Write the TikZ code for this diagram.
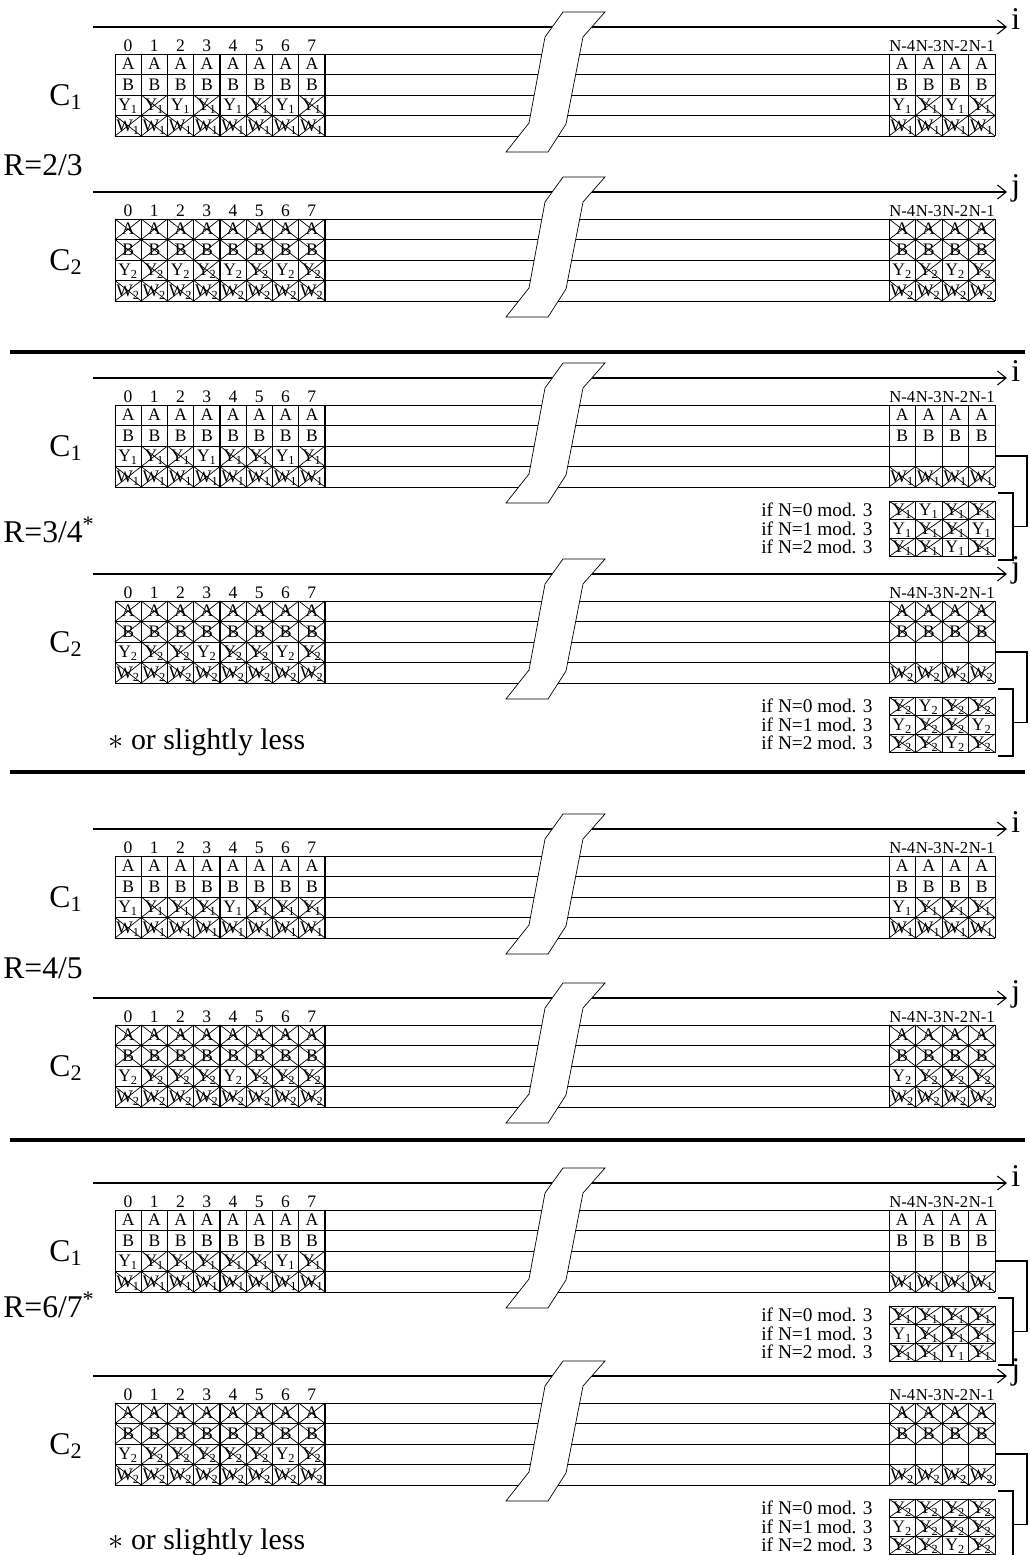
\documentclass[tikz,border=0pt]{standalone}
\usepackage{fontspec}
\setmainfont{Liberation Serif}
\usepackage{tikz}
\usetikzlibrary{positioning, arrows.meta}
\tikzset{
	line width = .5pt,
	cell/.style={
		inner sep=0pt,
		text height=6.5pt,
		text depth=0pt,
		font=\fontsize{10}{11}\selectfont
	},
	colnum/.style={inner sep=0pt, font=\fontsize{10}{11}\selectfont},
	endnum/.style={inner sep=0pt, font=\fontsize{9.5}{10}\selectfont},
	big/.style={inner sep=0pt, font=\fontsize{18}{21}\selectfont},
	note/.style={inner sep=0pt, font=\fontsize{17}{19}\selectfont},
	modlabel/.style={inner sep=0pt, font=\fontsize{11}{12}\selectfont},
	axis/.style={
		-{Straight Barb[length=5pt,width=8pt]},
		line width=.6pt
	},
	thickline/.style={line width=1.1pt},
	breakmark/.style={draw, fill=white},
	separator/.style={line width=2.4pt},
	bracket/.style={line width=.6pt}
}
% one cell: name, x, y, width, height, text, flag (0 plain, 1 crossed, 2 empty)
\newcommand{\cwcell}[7]{%
	\pgfmathsetmacro\cellx{#2+#4/2}\pgfmathsetmacro\celly{#3+#5/2}%
	\ifnum#7<2 \node[cell] (#1) at (\cellx,\celly) {#6};\fi
	\ifnum#7=1 \draw (#2,#3) -- ++(#4,#5) ++(0,-#5) -- ++(-#4,#5);\fi
}
% one codeword: name, top, index, A/B crossed, Y flags left, Y flags right
\newcommand{\cwblock}[6]{%
	\coordinate (#1-s) at (93,{#2-27});
	\coordinate (#1-e) at (1007,{#2-27});
	\draw[axis] (#1-s) -- (#1-e);
	\node[big, anchor=base west] (#1-ax) at (1011,{#2-24}) {\ifnum#3=1 i\else j\fi};
	\node[big] (#1-lbl) at (66,{#2+43}) {C\textsubscript{#3}};
	\foreach \r in {0,...,4}
		\draw (115,{#2+20.5*\r}) -- (995,{#2+20.5*\r});
	\foreach \c in {0,...,8}
		\draw ({115+26.25*\c},#2) -- ({115+26.25*\c},{#2+82});
	\draw[thickline] (220,#2) -- (220,{#2+82}) (325,#2) -- (325,{#2+82});
	\foreach \c in {0,...,4}
		\draw ({889+26.5*\c},#2) -- ({889+26.5*\c},{#2+82});
	\foreach \c in {0,...,7}
		\node[colnum] (#1-n\c) at ({115+26.25*(\c+.5)},{#2-8}) {\c};
	\foreach \t [count=\c from 0] in {N-4,N-3,N-2,N-1}
		\node[endnum] (#1-m\c) at ({889+26.5*(\c+.5)},{#2-8}) {\t};
	\foreach \c in {0,...,7} {
		\pgfmathsetmacro\xx{115+26.25*\c}
		\cwcell{#1-a\c}{\xx}{#2}{26.25}{20.5}{A}{#4}
		\cwcell{#1-b\c}{\xx}{#2+20.5}{26.25}{20.5}{B}{#4}
		\cwcell{#1-w\c}{\xx}{#2+61.5}{26.25}{20.5}{W\textsubscript{#3}}{1}
	}
	\foreach \f [count=\c from 0] in {#5} {
		\pgfmathsetmacro\xx{115+26.25*\c}
		\cwcell{#1-y\c}{\xx}{#2+41}{26.25}{20.5}{Y\textsubscript{#3}}{\f}
	}
	\foreach \c in {0,...,3} {
		\pgfmathsetmacro\xx{889+26.5*\c}
		\cwcell{#1-ea\c}{\xx}{#2}{26.5}{20.5}{A}{#4}
		\cwcell{#1-eb\c}{\xx}{#2+20.5}{26.5}{20.5}{B}{#4}
		\cwcell{#1-ew\c}{\xx}{#2+61.5}{26.5}{20.5}{W\textsubscript{#3}}{1}
	}
	\foreach \f [count=\c from 0] in {#6} {
		\pgfmathsetmacro\xx{889+26.5*\c}
		\cwcell{#1-ey\c}{\xx}{#2+41}{26.5}{20.5}{Y\textsubscript{#3}}{\f}
	}
	\draw[breakmark] (563,{#2-42}) -- (605,{#2-42}) -- (583,{#2-17}) -- (566,{#2+70})
		-- (548,{#2+98}) -- (506,{#2+98}) -- (529,{#2+69}) -- (545,{#2-17}) -- cycle;
}
% table of the last Y cells: name, top of codeword, index, rows
\newcommand{\modtable}[4]{%
	\foreach \row [count=\r from 0] in {#4} {
		\pgfmathsetmacro\yy{#2+96+18.5*\r}
		\foreach \f [count=\c from 0] in \row {
			\pgfmathsetmacro\xx{889+26.5*\c}
			\cwcell{#1-t\r\c}{\xx}{\yy}{26.5}{18.5}{Y\textsubscript{#3}}{\f}
		}
	}
	\foreach \r in {0,...,3}
		\draw (889,{#2+96+18.5*\r}) -- (995,{#2+96+18.5*\r});
	\foreach \c in {0,...,4}
		\draw ({889+26.5*\c},{#2+96}) -- ({889+26.5*\c},{#2+151.5});
	\foreach \t [count=\r from 0] in {0,1,2} {
		\coordinate (#1-r\r) at (889,{#2+105.25+18.5*\r});
		\node[modlabel, anchor=east, left=0.32cm of #1-r\r] (#1-l\r) {if N=\t{} mod. 3};
	}
	\coordinate (#1-yr) at (995,{#2+51});
	\coordinate (#1-yo) at (1027,{#2+51});
	\coordinate (#1-bo) at (1027,{#2+121.5});
	\coordinate (#1-bm) at (1013,{#2+121.5});
	\coordinate (#1-bt) at (998,{#2+88});
	\coordinate (#1-bb) at (998,{#2+155});
	\draw[bracket] (#1-yr) -- (#1-yo) -- (#1-bo) -- (#1-bm);
	\draw[bracket] (#1-bt) -| (#1-bm) |- (#1-bb);
}

\begin{document}
\begin{tikzpicture}[x=0.02cm, y=-0.02cm]
	\useasboundingbox (0,0) rectangle (1029,1555);

	\cwblock{pa}{54}{1}{0}{0,1,0,1,0,1,0,1}{0,1,0,1}
	\cwblock{pb}{219}{2}{1}{0,1,0,1,0,1,0,1}{0,1,0,1}
	\node[big, anchor=west] (ra) at (3,165) {R=2/3};

	\draw[separator] (10,352) -- (1025,352);

	\cwblock{qa}{405}{1}{0}{0,1,1,0,1,1,0,1}{2,2,2,2}
	\modtable{qa}{405}{1}{{1,0,1,1},{0,1,1,0},{1,1,0,1}}
	\cwblock{qb}{601}{2}{1}{0,1,1,0,1,1,0,1}{2,2,2,2}
	\modtable{qb}{601}{2}{{1,0,1,1},{0,1,1,0},{1,1,0,1}}
	\node[big, anchor=west] (rb) at (3,530) {R=3/4\textsuperscript{*}};
	\node[note, anchor=west] (sb) at (108,742) {$\ast$ or slightly less};

	\draw[separator] (10,772) -- (1025,772);

	\cwblock{ua}{856}{1}{0}{0,1,1,1,0,1,1,1}{0,1,1,1}
	\cwblock{ub}{1025}{2}{1}{0,1,1,1,0,1,1,1}{0,1,1,1}
	\node[big, anchor=west] (rc) at (3,968) {R=4/5};

	\draw[separator] (10,1140) -- (1025,1140);

	\cwblock{va}{1210}{1}{0}{0,1,1,1,1,1,0,1}{2,2,2,2}
	\modtable{va}{1210}{1}{{1,1,1,1},{0,1,1,1},{1,1,0,1}}
	\cwblock{vb}{1403}{2}{1}{0,1,1,1,1,1,0,1}{2,2,2,2}
	\modtable{vb}{1403}{2}{{1,1,1,1},{0,1,1,1},{1,1,0,1}}
	\node[big, anchor=west] (rd) at (3,1305) {R=6/7\textsuperscript{*}};
	\node[note, anchor=west] (sd) at (108,1542) {$\ast$ or slightly less};
\end{tikzpicture}
\end{document}
